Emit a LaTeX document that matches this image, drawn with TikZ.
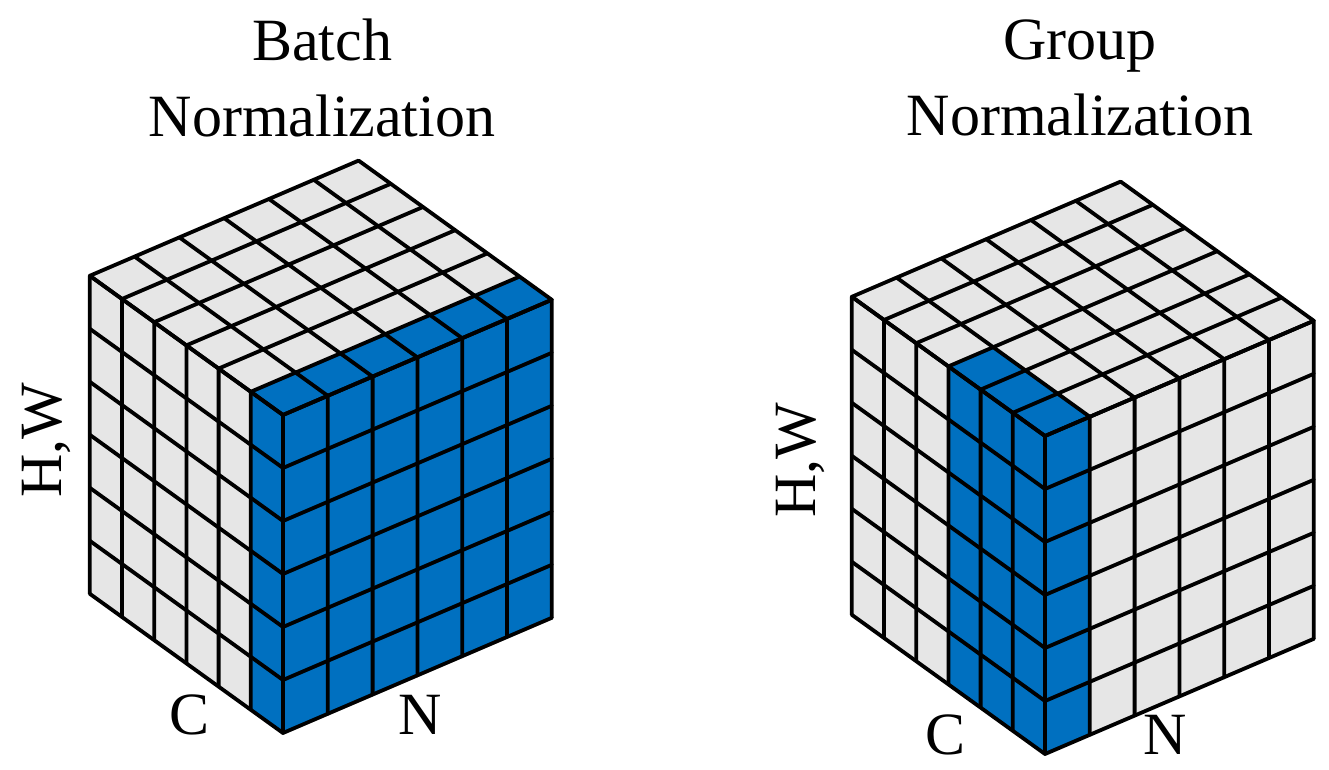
\documentclass[tikz,border=0pt]{standalone}
\usepackage{fontspec}
\setmainfont{Liberation Serif}
\definecolor{cellgray}{HTML}{E6E6E6}
\definecolor{cellblue}{HTML}{0070C0}
\tikzset{
  lbl/.style={font=\fontsize{60}{76}\selectfont, inner sep=0pt, align=center},
  grid3d/.style={line width=3.8pt, line join=round, line cap=round},
  cube3d/.style={x={(-32.2pt,23.2pt)}, y={(44.8pt,19.2pt)}, z={(0pt,53pt)}}
}
\newcommand{\drawcube}[6]{% c0 c1 n0 n1 : blue ranges (left face c0..c1 at n=0 if n0=0; right face n0..n1 if c0=0)
  % faces gray
  \fill[cellgray] (0,0,0) -- (6,0,0) -- (6,0,6) -- (0,0,6) -- cycle;
  \fill[cellgray] (0,0,0) -- (0,6,0) -- (0,6,6) -- (0,0,6) -- cycle;
  \fill[cellgray] (0,0,6) -- (6,0,6) -- (6,6,6) -- (0,6,6) -- cycle;
  % blue
  \fill[cellblue] (#1,0,0) -- (#2,0,0) -- (#2,0,6) -- (#1,0,6) -- cycle;
  \fill[cellblue] (0,#3,0) -- (0,#4,0) -- (0,#4,6) -- (0,#3,6) -- cycle;
  \fill[cellblue] (#1,#3,6) -- (#2,#3,6) -- (#2,#4,6) -- (#1,#4,6) -- cycle;
  % grid lines
  \foreach \i in {0,...,6}{
    \draw[grid3d] (\i,0,0) -- (\i,0,6) -- (\i,6,6);
    \draw[grid3d] (0,\i,0) -- (0,\i,6) -- (6,\i,6);
    \draw[grid3d] (6,0,\i) -- (0,0,\i) -- (0,6,\i);
  }
}
\begin{document}
\begin{tikzpicture}
\useasboundingbox (0,0) rectangle (1329pt,770pt);
\begin{scope}[shift={(283pt,37pt)}, cube3d]
  \drawcube{0}{1}{0}{6}{}{}
\end{scope}
\begin{scope}[shift={(1045pt,16pt)}, cube3d]
  \drawcube{0}{3}{0}{1}{}{}
\end{scope}
\node[lbl] (t1) at (322pt,692pt) {Batch\\Normalization};
\node[lbl] (t2) at (1080pt,692pt) {Group\\Normalization};
\node[lbl, rotate=90] (hw1) at (46pt,330pt) {H,W};
\node[lbl, rotate=90] (hw2) at (800pt,310pt) {H,W};
\node[lbl] (c1) at (190pt,55pt) {C};
\node[lbl] (n1) at (420pt,55pt) {N};
\node[lbl] (c2) at (945pt,35pt) {C};
\node[lbl] (n2) at (1165pt,35pt) {N};
\end{tikzpicture}
\end{document}
